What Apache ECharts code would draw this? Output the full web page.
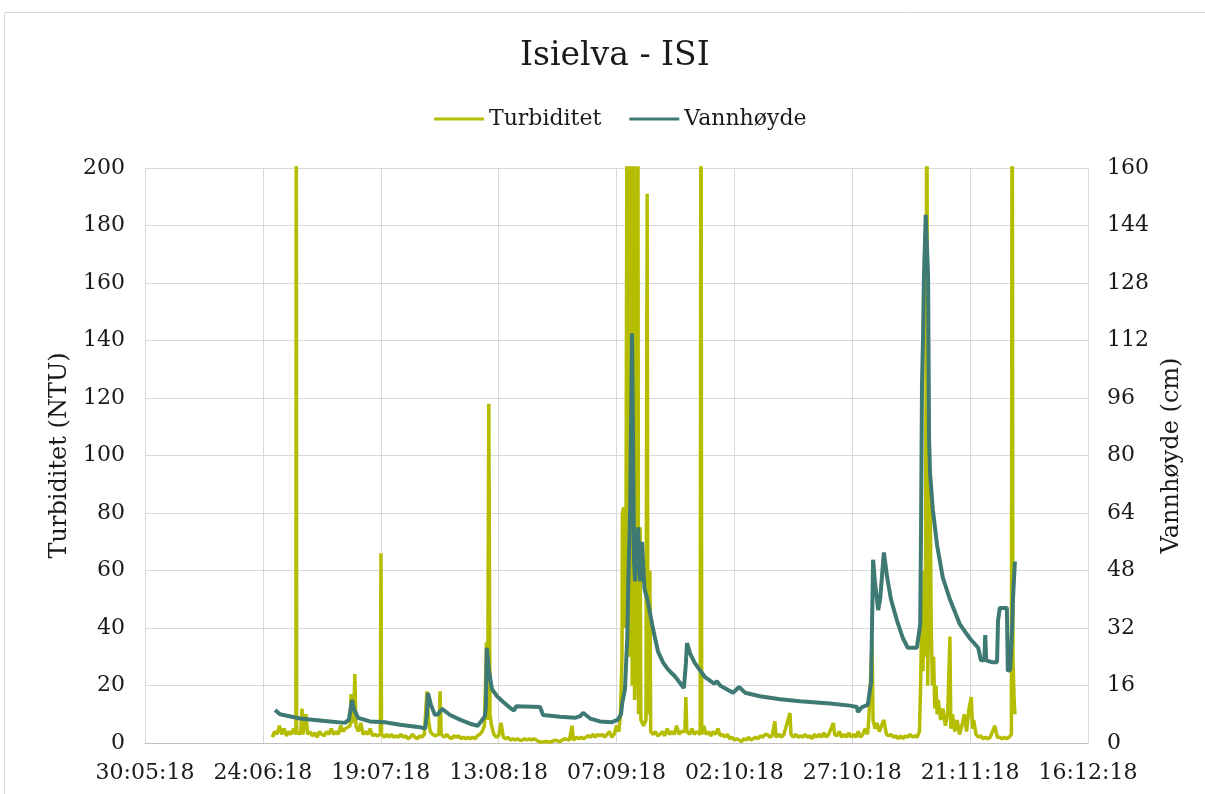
<!DOCTYPE html>
<html><head><meta charset="utf-8">
<script src="https://cdn.jsdelivr.net/npm/echarts@6/dist/echarts.min.js"></script>
<style>html,body{margin:0;padding:0;background:#fff}#c{width:1205px;height:794px}</style>
</head><body><div id="c"></div>
<script>
const titleText = "Isielva - ISI";
const seriesNames = ["Turbiditet", "Vannhøyde"];
const leftAxisName = "Turbiditet (NTU)";
const rightAxisName = "Vannhøyde (cm)";
const xTickLabels = ["30:05:18","24:06:18","19:07:18","13:08:18","07:09:18","02:10:18","27:10:18","21:11:18","16:12:18"];

// Turbiditet (NTU), [MM-DD HH:mm, value], 2018
const turbiditet = [
["06-26 00:00",2],["06-26 12:00",4],["06-27 00:00",3],["06-27 12:00",6],["06-28 00:00",3],["06-28 12:00",5],
["06-29 00:00",2.5],["06-29 12:00",4],["06-30 00:00",3],["06-30 12:00",5],["07-01 00:00",3],["07-01 02:00",260],
["07-01 04:00",3],["07-01 12:00",4],["07-02 00:00",3],["07-02 07:00",12],["07-02 12:00",3],["07-03 03:00",10],
["07-03 12:00",3],["07-04 00:00",4],["07-04 12:00",2.5],["07-05 00:00",3.5],["07-05 12:00",2],["07-06 00:00",4],
["07-06 12:00",3],["07-07 00:00",2.5],["07-07 12:00",4],["07-08 00:00",3],["07-08 12:00",5],["07-09 00:00",3],
["07-09 12:00",4],["07-10 00:00",3],["07-10 12:00",6],["07-11 00:00",4],["07-11 12:00",5],["07-12 12:00",6],
["07-12 17:00",17],["07-12 20:00",7],["07-13 06:00",8],["07-13 12:00",24],["07-13 18:00",6],["07-14 06:00",4],
["07-14 18:00",7],["07-15 06:00",3],["07-15 18:00",4],["07-16 06:00",3],["07-16 18:00",5],["07-17 06:00",2.5],
["07-17 18:00",3],["07-18 06:00",2.5],["07-18 22:00",3],["07-19 01:00",66],["07-19 04:00",3],["07-19 18:00",2],
["07-20 06:00",3],["07-20 18:00",2],["07-21 06:00",3],["07-21 18:00",2],["07-22 06:00",2.5],["07-22 18:00",2],
["07-23 06:00",3],["07-23 18:00",2],["07-24 06:00",2.5],["07-24 18:00",1.5],["07-25 06:00",2],["07-25 18:00",3],
["07-26 06:00",2],["07-26 18:00",1.5],["07-27 06:00",2.5],["07-27 18:00",2],["07-28 06:00",3],["07-28 19:00",18],
["07-29 03:00",8],["07-29 12:00",4],["07-30 00:00",3],["07-30 12:00",2.5],["07-31 08:00",3],["07-31 14:00",18],
["07-31 20:00",3],["08-01 12:00",2],["08-02 00:00",3],["08-02 12:00",2],["08-03 00:00",1.5],["08-03 12:00",2.5],
["08-04 00:00",2],["08-04 12:00",2.5],["08-05 00:00",1.5],["08-05 12:00",2],["08-06 00:00",1.5],["08-06 12:00",2],
["08-07 00:00",1.5],["08-07 12:00",2],["08-08 00:00",1.5],["08-08 12:00",2.5],["08-09 00:00",3],["08-09 12:00",4],
["08-10 00:00",6],["08-10 10:00",35],["08-10 16:00",8],["08-10 22:00",118],["08-11 04:00",10],["08-11 12:00",6],
["08-12 00:00",3],["08-12 12:00",2],["08-13 00:00",2.5],["08-13 12:00",7],["08-14 00:00",2],["08-14 12:00",1.5],
["08-15 00:00",2],["08-15 12:00",1],["08-16 00:00",1.5],["08-16 12:00",1],["08-17 00:00",1.5],["08-17 12:00",1],
["08-18 00:00",1],["08-18 12:00",1.5],["08-19 00:00",1],["08-19 12:00",1.5],["08-20 00:00",1],["08-20 12:00",1.5],
["08-21 00:00",1],["08-21 12:00",0.5],["08-22 00:00",0.3],["08-23 00:00",0.5],["08-24 00:00",0.3],["08-25 00:00",1],
["08-26 00:00",0.5],["08-27 00:00",1.5],["08-28 00:00",1],["08-28 14:00",6],["08-28 20:00",1],["08-29 12:00",2],
["08-30 00:00",1.5],["08-30 12:00",2],["08-31 00:00",1.5],["08-31 12:00",2],["09-01 00:00",2.5],["09-01 12:00",2],
["09-02 00:00",3],["09-02 12:00",2],["09-03 00:00",3],["09-03 12:00",2.5],["09-04 00:00",3],["09-04 12:00",2],
["09-05 00:00",3],["09-05 12:00",4],["09-06 00:00",2],["09-06 12:00",3],["09-07 00:00",6],["09-07 12:00",4],
["09-07 20:00",10],["09-08 04:00",30],["09-08 06:00",80],["09-08 12:00",82],["09-08 18:00",40],["09-09 00:00",60],
["09-09 06:00",250],["09-09 10:00",90],["09-09 14:00",260],["09-09 20:00",30],["09-10 02:00",280],["09-10 08:00",20],
["09-10 14:00",250],["09-10 20:00",15],["09-11 06:00",40],["09-11 12:00",300],["09-11 16:00",10],["09-12 00:00",75],
["09-12 04:00",8],["09-12 18:00",6],["09-13 06:00",8],["09-13 12:00",191],["09-13 16:00",10],["09-14 02:00",60],
["09-14 06:00",4],["09-14 18:00",3],["09-15 06:00",4],["09-15 18:00",2.5],["09-16 06:00",3],["09-16 18:00",4],
["09-17 06:00",2.5],["09-17 18:00",5],["09-18 06:00",3],["09-18 18:00",4],["09-19 06:00",3],["09-19 18:00",6],
["09-20 06:00",3],["09-20 18:00",4],["09-21 12:00",4],["09-21 17:00",16],["09-21 22:00",4],["09-22 12:00",3],
["09-23 00:00",5],["09-23 12:00",3],["09-24 00:00",4],["09-24 18:00",3],["09-24 22:00",260],["09-25 02:00",3],
["09-25 12:00",6],["09-26 00:00",3],["09-26 12:00",4],["09-27 00:00",2.5],["09-27 12:00",4],["09-28 00:00",3],
["09-28 12:00",5],["09-29 00:00",2.5],["09-29 12:00",3],["09-30 00:00",2],["09-30 12:00",3],["10-01 00:00",1.5],
["10-01 12:00",2],["10-02 00:00",1],["10-02 12:00",1.5],["10-03 00:00",1],["10-03 12:00",0.5],["10-04 00:00",1.5],
["10-04 12:00",1],["10-05 00:00",2],["10-05 12:00",1],["10-06 00:00",1.5],["10-06 12:00",2],["10-07 00:00",1.5],
["10-07 12:00",2.5],["10-08 00:00",2],["10-08 12:00",3],["10-09 00:00",3],["10-09 12:00",2],["10-10 00:00",2.5],
["10-10 14:00",7.5],["10-10 20:00",2],["10-11 12:00",3],["10-12 00:00",2],["10-12 12:00",3],["10-13 19:00",10.4],
["10-14 00:00",3],["10-14 12:00",2],["10-15 00:00",3],["10-15 12:00",2],["10-16 00:00",2.5],["10-16 12:00",2],
["10-17 00:00",3],["10-17 12:00",2],["10-18 00:00",2.5],["10-18 12:00",1.5],["10-19 00:00",3],["10-19 12:00",2],
["10-20 00:00",3],["10-20 12:00",2],["10-21 00:00",3.5],["10-21 12:00",2],["10-22 00:00",3],["10-23 00:00",7],
["10-23 06:00",3],["10-23 18:00",2.5],["10-24 06:00",4],["10-24 18:00",2],["10-25 06:00",3],["10-25 18:00",2],
["10-26 06:00",3.5],["10-26 18:00",2],["10-27 06:00",3],["10-27 18:00",2],["10-28 06:00",4],["10-28 18:00",2],
["10-29 06:00",3],["10-29 18:00",5],["10-30 06:00",3],["10-30 12:00",8],["10-31 05:00",35],["10-31 10:00",8],
["10-31 20:00",5],["11-01 06:00",7],["11-01 18:00",4],["11-02 17:00",8],["11-03 06:00",3],["11-03 18:00",2.5],
["11-04 06:00",3],["11-04 18:00",2],["11-05 06:00",2.5],["11-05 18:00",1.5],["11-06 06:00",2.5],["11-06 18:00",1.5],
["11-07 06:00",2.5],["11-07 18:00",2],["11-08 06:00",3],["11-08 18:00",2],["11-09 06:00",2.5],["11-09 18:00",2],
["11-10 06:00",4],["11-10 12:00",20],["11-10 18:00",45],["11-11 00:00",25],["11-11 06:00",60],["11-11 12:00",30],
["11-11 20:00",250],["11-12 00:00",20],["11-12 12:00",93],["11-12 18:00",40],["11-13 00:00",20],["11-13 06:00",30],
["11-13 12:00",12],["11-13 18:00",20],["11-14 00:00",10],["11-14 06:00",15],["11-14 18:00",8],["11-15 06:00",12],
["11-15 18:00",6],["11-16 06:00",10],["11-16 17:00",37],["11-16 22:00",5],["11-17 06:00",10],["11-17 18:00",4],
["11-18 06:00",8],["11-18 18:00",3],["11-19 06:00",6],["11-19 18:00",10],["11-20 06:00",4],["11-20 18:00",12],
["11-21 06:00",16],["11-21 12:00",5],["11-21 18:00",8],["11-22 06:00",3],["11-22 18:00",2],["11-23 06:00",2.5],
["11-23 18:00",1.5],["11-24 06:00",2],["11-24 18:00",1.5],["11-25 06:00",2],["11-25 18:00",4],["11-26 06:00",6],
["11-26 18:00",2],["11-27 06:00",2],["11-27 18:00",1.5],["11-28 06:00",2],["11-28 18:00",1.5],["11-29 06:00",2],
["11-29 18:00",3],["11-29 22:00",280],["11-30 02:00",30],["11-30 08:00",15],["11-30 12:00",10]
];

// Vannhøyde (cm), [MM-DD HH:mm, value], 2018
const vannhoyde = [
["06-26 14:00",9.2],["06-27 15:00",8.0],["07-01 21:00",6.8],["07-05 01:00",6.4],["07-08 06:00",6.0],["07-11 10:00",5.6],
["07-12 06:00",6.5],["07-12 22:00",12.0],["07-13 07:00",9.5],["07-14 05:00",7.0],["07-16 17:00",6.0],["07-19 22:00",5.8],
["07-23 02:00",5.1],["07-27 07:00",4.4],["07-28 10:00",4.0],["07-28 19:00",8.0],["07-29 00:00",13.9],["07-29 16:00",10.5],
["07-30 12:00",7.8],["07-31 03:00",8.0],["08-01 00:00",9.5],["08-02 17:00",7.8],["08-04 19:00",6.5],["08-07 08:00",5.2],
["08-08 14:00",4.8],["08-09 12:00",6.4],["08-10 02:00",7.5],["08-10 07:00",10.0],["08-10 12:00",26.5],["08-10 23:00",20.0],
["08-11 14:00",15.0],["08-12 16:00",13.0],["08-13 22:00",11.5],["08-15 10:00",9.8],["08-16 06:00",9.0],["08-16 17:00",10.2],
["08-21 19:00",10.0],["08-22 10:00",7.8],["08-26 00:00",7.3],["08-29 05:00",7.0],["08-30 07:00",7.5],["08-30 22:00",8.4],
["09-01 10:00",6.8],["09-03 12:00",6.0],["09-06 01:00",5.8],["09-07 07:00",6.5],["09-07 23:00",8.0],["09-08 05:00",11.0],
["09-08 19:00",15.0],["09-09 07:00",29.5],["09-09 12:00",44.5],["09-09 22:00",67],["09-10 07:00",114],["09-10 12:00",86],
["09-10 17:00",51],["09-10 22:00",45],["09-11 14:00",60],["09-12 00:00",45],["09-12 10:00",56],["09-12 22:00",43],
["09-13 17:00",39],["09-14 17:00",32],["09-15 19:00",25.5],["09-16 22:00",22.3],["09-17 22:00",20.5],["09-19 10:00",18.5],
["09-21 07:00",15.3],["09-21 17:00",22],["09-21 23:00",27.8],["09-22 14:00",25],["09-23 14:00",22.3],["09-25 19:00",18.3],
["09-27 17:00",16.5],["09-28 07:00",17.2],["09-28 23:00",16.0],["10-01 17:00",14.0],["10-03 00:00",15.6],["10-04 06:00",14.0],
["10-07 10:00",13.0],["10-11 17:00",12.2],["10-15 22:00",11.6],["10-22 07:00",11.0],["10-26 12:00",10.4],["10-28 00:00",10.0],
["10-28 05:00",8.6],["10-29 02:00",10.0],["10-30 07:00",10.6],["10-31 00:00",17],["10-31 10:00",51],["10-31 19:00",45],
["11-01 12:00",37],["11-01 22:00",40],["11-02 17:00",53],["11-03 10:00",46],["11-04 05:00",40],["11-05 12:00",34],
["11-06 19:00",29],["11-07 19:00",26.5],["11-09 17:00",26.5],["11-10 10:00",33],["11-10 14:00",58],["11-10 19:00",100],
["11-11 00:00",112],["11-11 05:00",130],["11-11 14:00",147],["11-12 02:00",130],["11-12 07:00",85],["11-12 12:00",75],
["11-13 02:00",65],["11-14 00:00",55],["11-15 05:00",46],["11-16 17:00",40],["11-18 20:00",33],["11-21 00:00",29],
["11-22 17:00",26.5],["11-23 07:00",23],["11-24 00:00",23],["11-24 05:00",30],["11-24 10:00",23],["11-25 14:00",22.5],
["11-26 17:00",22.5],["11-26 22:00",34],["11-27 07:00",37.6],["11-28 19:00",37.6],["11-29 00:00",20],["11-29 12:00",20.5],
["11-29 22:00",32],["11-30 02:00",40],["11-30 12:00",50.5]
];

const T0 = Date.UTC(2018, 4, 30);
function toDay(s) {
  const [md, hm] = s.split(' ');
  const [m, d] = md.split('-').map(Number);
  const [h, mi] = hm.split(':').map(Number);
  return (Date.UTC(2018, m - 1, d, h, mi) - T0) / 86400000;
}
const turbData = turbiditet.map(p => [toDay(p[0]), p[1]]);
const vannData = vannhoyde.map(p => [toDay(p[0]), p[1]]);

const FONT = '"DejaVu Serif", "Liberation Serif", serif';
const TXT = '#1a1a1a';
const chart = echarts.init(document.getElementById('c'), null, {renderer: 'canvas'});
chart.setOption({
  animation: false,
  backgroundColor: '#fff',
  graphic: [{
    type: 'rect', silent: true, z: -10,
    shape: {x: 4.5, y: 12.5, width: 1230, height: 820},
    style: {fill: 'none', stroke: '#d9d9d9', lineWidth: 1}
  }],
  title: {
    text: titleText, left: 515, top: 35,
    textStyle: {fontFamily: FONT, fontSize: 33, fontWeight: 'normal', color: TXT}
  },
  legend: {
    data: seriesNames, top: 103, left: 429, itemGap: 28,
    itemWidth: 50, itemHeight: 3, icon: 'rect',
    textStyle: {fontFamily: FONT, fontSize: 22, color: TXT}
  },
  grid: {left: 145, right: 117, top: 168, bottom: 51, containLabel: false},
  xAxis: {
    type: 'value', min: 0, max: 200, interval: 25,
    axisLine: {show: true, lineStyle: {color: '#bfbfbf', width: 1}},
    axisTick: {show: false},
    splitLine: {show: true, lineStyle: {color: '#d9d9d9', width: 1}},
    axisLabel: {
      margin: 19, fontFamily: FONT, fontSize: 22, color: TXT,
      formatter: v => xTickLabels[Math.round(v / 25)]
    }
  },
  yAxis: [{
    type: 'value', min: 0, max: 200, interval: 20,
    name: leftAxisName, nameLocation: 'middle', nameGap: 72, nameRotate: 90,
    nameTextStyle: {fontFamily: FONT, fontSize: 24, color: TXT},
    axisLine: {show: false}, axisTick: {show: false},
    splitLine: {show: true, lineStyle: {color: '#d9d9d9', width: 1}},
    axisLabel: {margin: 20, fontFamily: FONT, fontSize: 22, color: TXT}
  }, {
    type: 'value', min: 0, max: 160, interval: 16, position: 'right',
    name: rightAxisName, nameLocation: 'middle', nameGap: 70, nameRotate: 90,
    nameTextStyle: {fontFamily: FONT, fontSize: 24, color: TXT},
    axisLine: {show: false}, axisTick: {show: false},
    splitLine: {show: false},
    axisLabel: {margin: 19, fontFamily: FONT, fontSize: 22, color: TXT}
  }],
  series: [{
    name: seriesNames[0], type: 'line', yAxisIndex: 0, data: turbData,
    showSymbol: false, clip: true,
    lineStyle: {color: '#b5bd00', width: 3.5}, itemStyle: {color: '#b5bd00'}
  }, {
    name: seriesNames[1], type: 'line', yAxisIndex: 1, data: vannData,
    showSymbol: false, clip: true,
    lineStyle: {color: '#3e7a73', width: 4}, itemStyle: {color: '#3e7a73'}
  }]
});
</script>
</body></html>
